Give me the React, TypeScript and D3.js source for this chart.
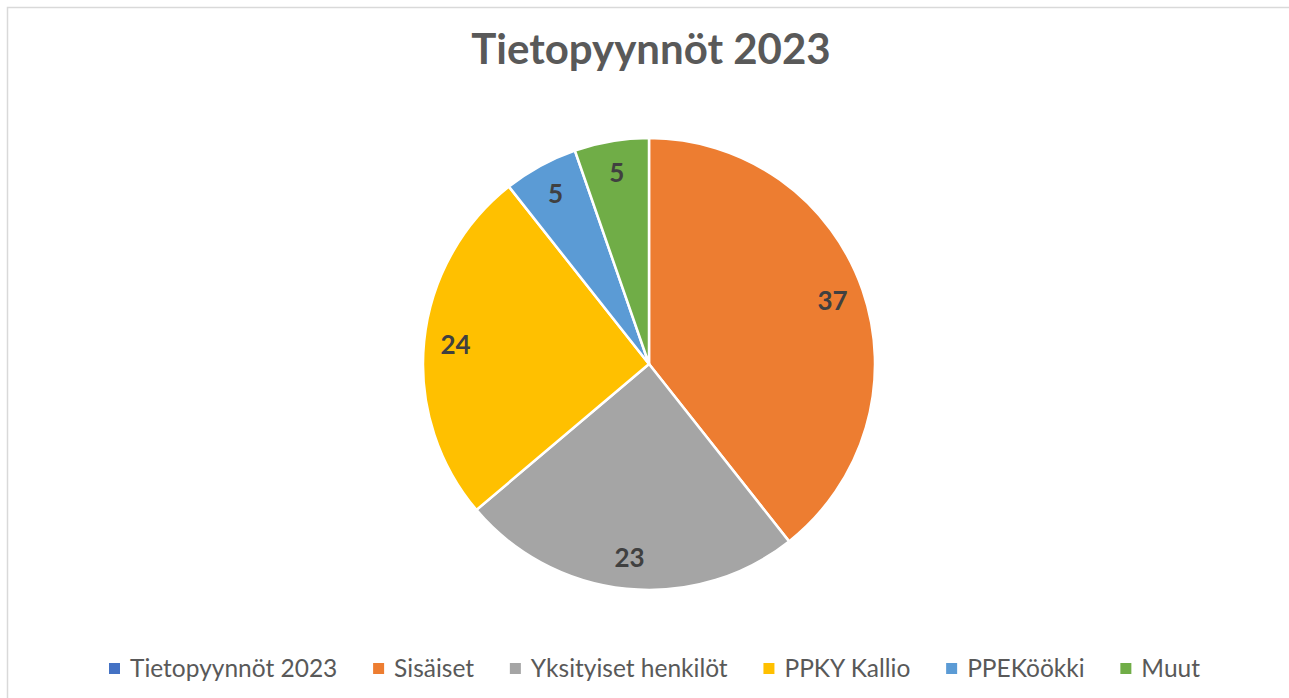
import React, { useEffect, useRef } from "react";
import * as d3 from "d3";

const title = "Tietopyynnöt 2023";
const categories = ["Tietopyynnöt 2023", "Sisäiset", "Yksityiset henkilöt", "PPKY Kallio", "PPEKöökki", "Muut"];
const values = [0, 37, 23, 24, 5, 5];
const colors = ["#4472C4", "#ED7D31", "#A5A5A5", "#FFC000", "#5B9BD5", "#70AD47"];

const W = 1289;
const H = 698;
const FONT = "Lato, 'Open Sans', sans-serif";

export default function App() {
  const ref = useRef<SVGSVGElement | null>(null);

  useEffect(() => {
    const svg = d3.select(ref.current);
    svg.selectAll("*").remove();

    svg.append("rect")
      .attr("x", 7.5).attr("y", 7.5)
      .attr("width", W + 10).attr("height", H + 10)
      .attr("fill", "#fff").attr("stroke", "#d9d9d9").attr("stroke-width", 1.5);

    svg.append("text")
      .attr("x", 651).attr("y", 64)
      .attr("text-anchor", "middle")
      .attr("font-family", FONT).attr("font-weight", "bold")
      .attr("font-size", 42).attr("fill", "#595959")
      .text(title);

    const cx = 649, cy = 364, R = 226;
    const data = categories.map((c, i) => ({ c, v: values[i], color: colors[i] }));
    const pie = d3.pie<any>().value((d) => d.v).sort(null);
    const arcs = pie(data);
    const arc = d3.arc<any>().innerRadius(0).outerRadius(R);
    const labelArc = d3.arc<any>().innerRadius(R * 0.86).outerRadius(R * 0.86);

    const g = svg.append("g").attr("transform", `translate(${cx},${cy})`);
    g.selectAll("path")
      .data(arcs.filter((a) => a.data.v > 0))
      .join("path")
      .attr("d", arc as any)
      .attr("fill", (d) => d.data.color)
      .attr("stroke", "#fff").attr("stroke-width", 2.5).attr("stroke-linejoin", "round");

    g.selectAll("text.lbl")
      .data(arcs.filter((a) => a.data.v > 0))
      .join("text")
      .attr("class", "lbl")
      .attr("transform", (d) => {
        const [x, y] = labelArc.centroid(d);
        return `translate(${x},${y})`;
      })
      .attr("text-anchor", "middle").attr("dy", "0.36em")
      .attr("font-family", FONT).attr("font-weight", "bold")
      .attr("font-size", 26).attr("fill", "#404040")
      .text((d) => String(d.data.v));

    // legend
    const lg = svg.append("g");
    const fs = 24.5;
    const off = 21;
    const items = lg.selectAll("g.item").data(data).join("g").attr("class", "item");
    items.append("rect").attr("width", 11).attr("height", 11).attr("y", -14).attr("fill", (d) => d.color);
    const texts = items.append("text")
      .attr("x", off).attr("y", 0)
      .attr("font-family", FONT).attr("font-size", fs).attr("fill", "#595959")
      .text((d) => d.c);
    const widths: number[] = [];
    texts.each(function () { widths.push((this as SVGTextElement).getComputedTextLength()); });
    const left = 109, right = 1200;
    const sum = widths.reduce((s, w) => s + off + w, 0);
    const gap = (right - left - sum) / (widths.length - 1);
    let x = left;
    const xs: number[] = [];
    widths.forEach((w) => { xs.push(x); x += off + w + gap; });
    items.attr("transform", (_, i) => `translate(${xs[i]},${677})`);
  }, []);

  return (
    <svg ref={ref} width={W} height={H} style={{ position: "absolute", left: 0, top: 0 }} />
  );
}
